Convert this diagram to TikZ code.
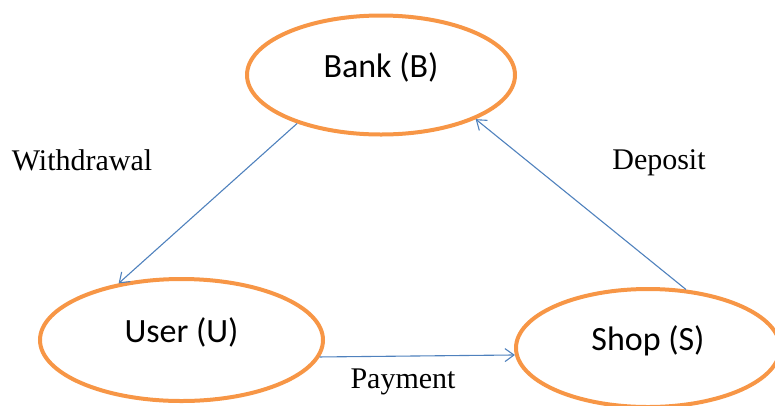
\documentclass[tikz,border=0pt]{standalone}
\usepackage{fontspec}
\setmainfont{Liberation Serif}
\newfontfamily\calibri{Carlito}
\usetikzlibrary{shapes.geometric, arrows.meta}

\definecolor{partyorange}{HTML}{F79646}
\definecolor{flowblue}{HTML}{4F81BD}

\tikzset{
    party/.style={draw=partyorange, line width=4pt, ellipse, inner sep=0pt,
        text depth=20pt, font=\calibri\fontsize{34}{38}\selectfont},
    flow/.style={draw=flowblue, line width=1.1pt, -{Straight Barb[length=9pt, width=13pt]}},
    tag/.style={font=\fontsize{30}{34}\selectfont}
}

\begin{document}
\begin{tikzpicture}[x=1pt, y=-1pt]
    \useasboundingbox (0,0) rectangle (775,405);

    % the three parties
    \node[party, minimum width=268pt, minimum height=119pt] (B) at (381,75) {Bank (B)};
    \node[party, minimum width=283pt, minimum height=122pt] (U) at (181.5,340) {User (U)};
    \node[party, minimum width=264pt, minimum height=118pt] (S) at (648,348) {Shop (S)};

    % money flows
    \draw[flow] (B.210) -- (U.138);
    \draw[flow] (U.353.3) -- (S.183.8);
    \draw[flow] (S.57) -- (B.335);

    \node[tag] (wd) at (82,160) {Withdrawal};
    \node[tag] (dp) at (659,163) {Deposit};
    \node[tag] (pm) at (403,382) {Payment};
\end{tikzpicture}
\end{document}
